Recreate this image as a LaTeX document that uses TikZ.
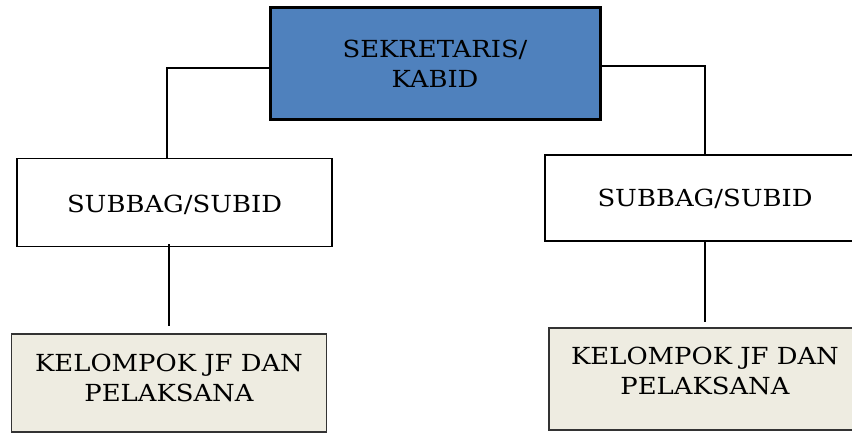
\documentclass[tikz,border=0pt]{standalone}
\usepackage{fontspec}
\setmainfont[FakeStretch=1.1]{DejaVu Serif}
\usetikzlibrary{positioning}
\definecolor{headblue}{HTML}{4F81BD}
\definecolor{groupbeige}{HTML}{EEECE1}
% lift a label inside its box without changing the box's size
\newcommand{\liftby}[2]{\raisebox{#1}[\height][\depth]{#2}}
\begin{document}
\begin{tikzpicture}[x=1pt,y=-1pt,
  every node/.style={font=\fontsize{23.5}{30}\selectfont, align=center, inner sep=0pt},
  headbox/.style={draw=black, line width=3pt, fill=headblue, minimum width=330pt, minimum height=112pt},
  unitbox/.style={draw=black, line width=1.8pt, fill=white, minimum width=315pt, minimum height=88pt},
  groupbox/.style={draw=black!80, line width=1.4pt, fill=groupbeige, minimum width=315pt, minimum height=98pt},
  link/.style={draw=black, line width=2pt}]
  \useasboundingbox (0,0) rectangle (852,433);
  \clip (0,0) rectangle (852,433);

  % head of the unit
  \node[headbox] (head) at (435,64) {SEKRETARIS/\\KABID};

  % sub-units
  \node[unitbox] (subl) at (174.5,202.5) {\liftby{-2pt}{SUBBAG/SUBID}};
  \node[unitbox, minimum width=320pt, minimum height=86pt] (subr) at (705,198) {\liftby{-1pt}{SUBBAG/SUBID}};

  % functional groups and staff
  \node[groupbox] (grpl) at (169,383) {\liftby{3pt}{\begin{tabular}{@{}c@{}}KELOMPOK JF DAN\\PELAKSANA\end{tabular}}};
  \node[groupbox, minimum width=312pt, minimum height=102pt] (grpr) at (705,379) {\liftby{6pt}{\begin{tabular}{@{}c@{}}KELOMPOK JF DAN\\PELAKSANA\end{tabular}}};

  % connectors
  \coordinate (lt) at ([yshift=3pt]grpl.north |- subl.south);
  \draw[link] ([yshift=-4pt]head.west) -| ([xshift=-7.5pt]subl.north);
  \draw[link] ([yshift=-2pt]head.east) -| (subr.north);
  \draw[link] (lt) -- ([yshift=7pt]grpl.north);
  \draw[link] (subr.south) -- ([yshift=5pt]grpr.north);
\end{tikzpicture}
\end{document}
